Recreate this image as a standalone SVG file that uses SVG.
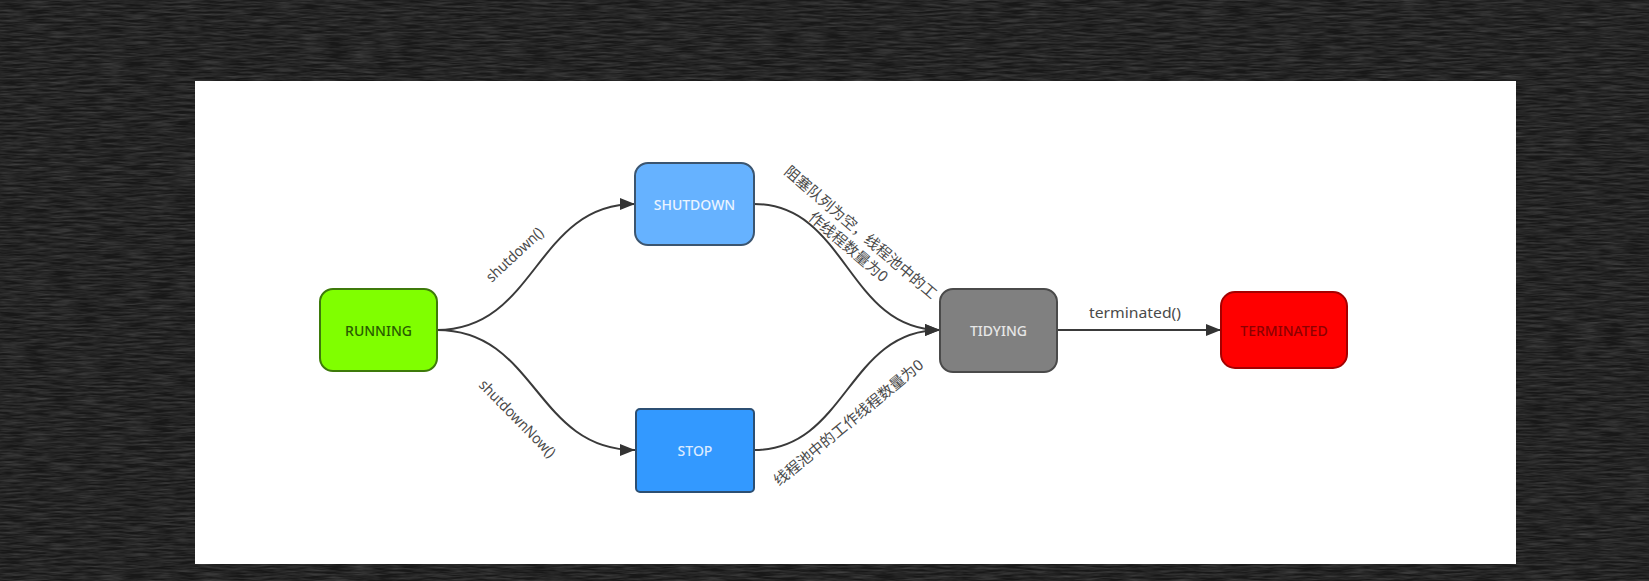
<svg xmlns="http://www.w3.org/2000/svg" width="1649" height="581" viewBox="0 0 1649 581">
<style>
.edge{fill:none;stroke:#3a3a3a;stroke-width:2;}
.lbl{font-family:"Noto Sans","Noto Sans CJK SC",sans-serif;font-size:15px;fill:#4a4a4a;text-anchor:middle;dominant-baseline:central;}
.ntx{font-family:"Noto Sans","Noto Sans CJK SC",sans-serif;font-size:14px;font-weight:500;text-anchor:middle;dominant-baseline:central;}
.box{stroke-width:2;}
</style>
<defs>
<marker id="arr" markerUnits="userSpaceOnUse" markerWidth="16" markerHeight="12" refX="15" refY="6" orient="auto">
<path d="M0,0 L15,6 L0,12 z" fill="#333"/>
</marker>
<filter id="grain" x="0" y="0" width="100%" height="100%">
<feTurbulence type="fractalNoise" baseFrequency="0.04 0.5" numOctaves="3" seed="5"/>
<feColorMatrix type="matrix" values="0 0 0 0 0.5  0 0 0 0 0.5  0 0 0 0 0.5  0 0 0 0.4 -0.12"/>
</filter>
</defs>
<rect width="1649" height="581" fill="#181818"/>
<rect width="1649" height="581" filter="url(#grain)"/>
<rect x="195" y="81" width="1321" height="483" fill="#ffffff"/>

<g id="connectors">
<path class="edge" d="M437,330 C537,330 535,204 635,204" marker-end="url(#arr)"/>
<path class="edge" d="M437,330 C537,330 535,450 635,450" marker-end="url(#arr)"/>
<path class="edge" d="M754,204 C847,204 847,330 940,330" marker-end="url(#arr)"/>
<path class="edge" d="M754,450 C847,450 847,330 940,330" marker-end="url(#arr)"/>
<path class="edge" d="M1057,330 L1221,330" marker-end="url(#arr)"/>
<text class="lbl" transform="translate(514,254) rotate(-43)" textLength="72" lengthAdjust="spacingAndGlyphs">shutdown()</text>
<text class="lbl" transform="translate(518,418) rotate(45.5)" textLength="102" lengthAdjust="spacingAndGlyphs">shutdownNow()</text>
<g transform="translate(855,239) rotate(40.5)">
<text class="lbl" x="0" y="-9.5">阻塞队列为空，线程池中的工</text>
<text class="lbl" x="0" y="9.5">作线程数量为0</text>
</g>
<text class="lbl" transform="translate(848,422) rotate(-39.5)">线程池中的工作线程数量为0</text>
<text class="lbl" x="1135" y="312" textLength="92" lengthAdjust="spacingAndGlyphs">terminated()</text>
</g>

<g id="running">
<rect class="box" x="320" y="289" width="117" height="82" rx="13" fill="#80ff00" stroke="#3d7a0a"/>
<text class="ntx" x="378.5" y="330" fill="#285c00">RUNNING</text>
</g>
<g id="shutdown">
<rect class="box" x="635" y="163" width="119" height="82" rx="13" fill="#66b2ff" stroke="#3b5570"/>
<text class="ntx" x="694.5" y="204" fill="#eaf4ff">SHUTDOWN</text>
</g>
<g id="stop">
<rect class="box" x="636" y="409" width="118" height="83" rx="4" fill="#3399ff" stroke="#2c4f73"/>
<text class="ntx" x="695" y="450" fill="#dcebff">STOP</text>
</g>
<g id="tidying">
<rect class="box" x="940" y="289" width="117" height="83" rx="13" fill="#808080" stroke="#4a4a4a"/>
<text class="ntx" x="998.5" y="330" fill="#e6e6e6">TIDYING</text>
</g>
<g id="terminated">
<rect class="box" x="1221" y="292" width="126" height="76" rx="14" fill="#ff0000" stroke="#a50000"/>
<text class="ntx" x="1284" y="330" fill="#8c0000">TERMINATED</text>
</g>
</svg>
